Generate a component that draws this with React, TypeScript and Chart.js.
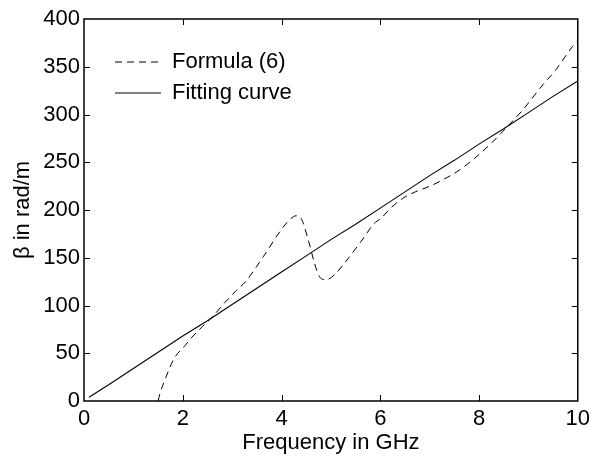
import React, { useEffect, useRef } from 'react';
import { Chart, registerables } from 'chart.js';

Chart.register(...registerables);

const seriesLabels = ['Formula (6)', 'Fitting curve'];

const formulaFreq = [1.5, 1.54, 1.66, 1.83, 2.03, 2.19, 2.4, 2.6, 2.8, 3.07, 3.27, 3.63, 3.99, 4.17, 4.3, 4.4, 4.54, 4.67, 4.77, 4.9, 5.07, 5.27, 5.61, 5.88, 6.01, 6.21, 6.45, 6.71, 7.01, 7.28, 7.55, 7.79, 8.02, 8.25, 8.55, 8.89, 9.29, 9.56, 9.89, 10];
const formulaBeta = [0, 8, 25, 45, 57, 67, 78, 88, 100, 115, 125, 151, 179, 190, 194, 191, 169, 144, 130, 127, 132, 144, 167, 186, 191, 202, 212, 219, 225, 232, 240, 249, 259, 270, 286, 305, 331, 347, 371, 377];

const fitFreq = [0.1, 0.5, 1, 1.5, 2, 2.5, 3, 3.5, 4, 4.5, 5, 5.5, 6, 6.5, 7, 7.5, 8, 8.5, 9, 9.5, 10];
const fitBeta = [4, 17, 34, 51, 68, 84, 101, 118, 135, 152, 169, 185, 202, 219, 236, 252, 269, 285, 302, 319, 335];

const xTickValues = [0, 2, 4, 6, 8, 10];
const yTickValues = [0, 50, 100, 150, 200, 250, 300, 350, 400];

const xTitle = 'Frequency in GHz';
const yTitle = 'β in rad/m';

const FONT = "'Liberation Sans', Arial, Helvetica, sans-serif";
const FS = 22;

const frameTicks = {
  id: 'frameTicks',
  afterLayout(chart: any) {
    const lg = chart.legend;
    if (lg) {
      lg.left = chart.chartArea.left + 22;
      lg.top = chart.chartArea.top + 23;
    }
  },
  afterDraw(chart: any) {
    const { ctx, chartArea: a, scales } = chart;
    const x = scales.x;
    const y = scales.y;
    const L = 6;
    ctx.save();
    ctx.strokeStyle = '#000';
    ctx.lineWidth = 1;
    ctx.beginPath();
    xTickValues.forEach((v) => {
      if (v <= x.min || v >= x.max) return;
      const px = Math.round(x.getPixelForValue(v)) + 0.5;
      ctx.moveTo(px, a.bottom);
      ctx.lineTo(px, a.bottom - L);
      ctx.moveTo(px, a.top);
      ctx.lineTo(px, a.top + L);
    });
    yTickValues.forEach((v) => {
      if (v <= y.min || v >= y.max) return;
      const py = Math.round(y.getPixelForValue(v)) + 0.5;
      ctx.moveTo(a.left, py);
      ctx.lineTo(a.left + L, py);
      ctx.moveTo(a.right, py);
      ctx.lineTo(a.right - L, py);
    });
    ctx.stroke();
    ctx.lineWidth = 1.5;
    ctx.strokeRect(a.left, a.top, a.right - a.left, a.bottom - a.top);
    ctx.restore();
  },
};

export default function App() {
  const canvasRef = useRef<HTMLCanvasElement | null>(null);

  useEffect(() => {
    document.body.style.margin = '0';
    const canvas = canvasRef.current;
    if (!canvas) return;
    const chart = new Chart(canvas, {
      type: 'line',
      data: {
        datasets: [
          {
            label: seriesLabels[0],
            data: formulaFreq.map((f, i) => ({ x: f, y: formulaBeta[i] })),
            borderColor: '#000',
            backgroundColor: '#000',
            borderWidth: 1,
            borderDash: [7, 5],
            pointRadius: 0,
            cubicInterpolationMode: 'monotone',
            fill: false,
          },
          {
            label: seriesLabels[1],
            data: fitFreq.map((f, i) => ({ x: f, y: fitBeta[i] })),
            borderColor: '#000',
            backgroundColor: '#000',
            borderWidth: 1.1,
            pointRadius: 0,
            fill: false,
          },
        ],
      },
      options: {
        animation: false,
        responsive: true,
        maintainAspectRatio: false,
        layout: { padding: { top: 19, right: 13, bottom: 0, left: 0 } },
        plugins: {
          tooltip: { enabled: false },
          legend: {
            display: true,
            position: 'chartArea',
            align: 'start',
            labels: {
              usePointStyle: true,
              pointStyle: 'line',
              pointStyleWidth: 46,
              boxHeight: FS,
              padding: 9,
              color: '#000',
              font: { family: FONT, size: FS },
              generateLabels: (c: any) => {
                const items = (Chart.defaults as any).plugins.legend.labels.generateLabels(c);
                items.forEach((it: any) => {
                  const ds = c.data.datasets[it.datasetIndex];
                  it.lineDash = ds.borderDash || [];
                  it.lineWidth = 1;
                  it.strokeStyle = '#000';
                  it.fillStyle = '#000';
                  it.pointStyle = 'line';
                });
                return items;
              },
            },
          },
        },
        scales: {
          x: {
            type: 'linear',
            min: 0,
            max: 10,
            afterFit: (s: any) => { s.height = 56; },
            afterBuildTicks: (s: any) => { s.ticks = xTickValues.map((v) => ({ value: v })); },
            grid: { display: false, drawTicks: false },
            border: { display: false },
            ticks: {
              color: '#000',
              padding: 5,
              maxRotation: 0,
              autoSkip: false,
              font: { family: FONT, size: FS },
              callback: (v: any) => String(v),
            },
            title: {
              display: true,
              text: xTitle,
              color: '#000',
              font: { family: FONT, size: FS },
              padding: { top: 0, bottom: 1 },
            },
          },
          y: {
            type: 'linear',
            min: 0,
            max: 400,
            afterFit: (s: any) => { s.width = 84; },
            afterBuildTicks: (s: any) => { s.ticks = yTickValues.map((v) => ({ value: v })); },
            grid: { display: false, drawTicks: false },
            border: { display: false },
            ticks: {
              color: '#000',
              padding: 4,
              autoSkip: false,
              font: { family: FONT, size: FS },
              callback: (v: any) => String(v),
            },
            title: {
              display: true,
              text: yTitle,
              color: '#000',
              font: { family: FONT, size: FS },
              padding: { top: 10, bottom: 0 },
            },
          },
        },
      },
      plugins: [frameTicks],
    } as any);
    return () => chart.destroy();
  }, []);

  return (
    <div style={{ position: 'absolute', left: 0, top: 0, width: 595, height: 457, background: '#fff' }}>
      <canvas ref={canvasRef} />
    </div>
  );
}
